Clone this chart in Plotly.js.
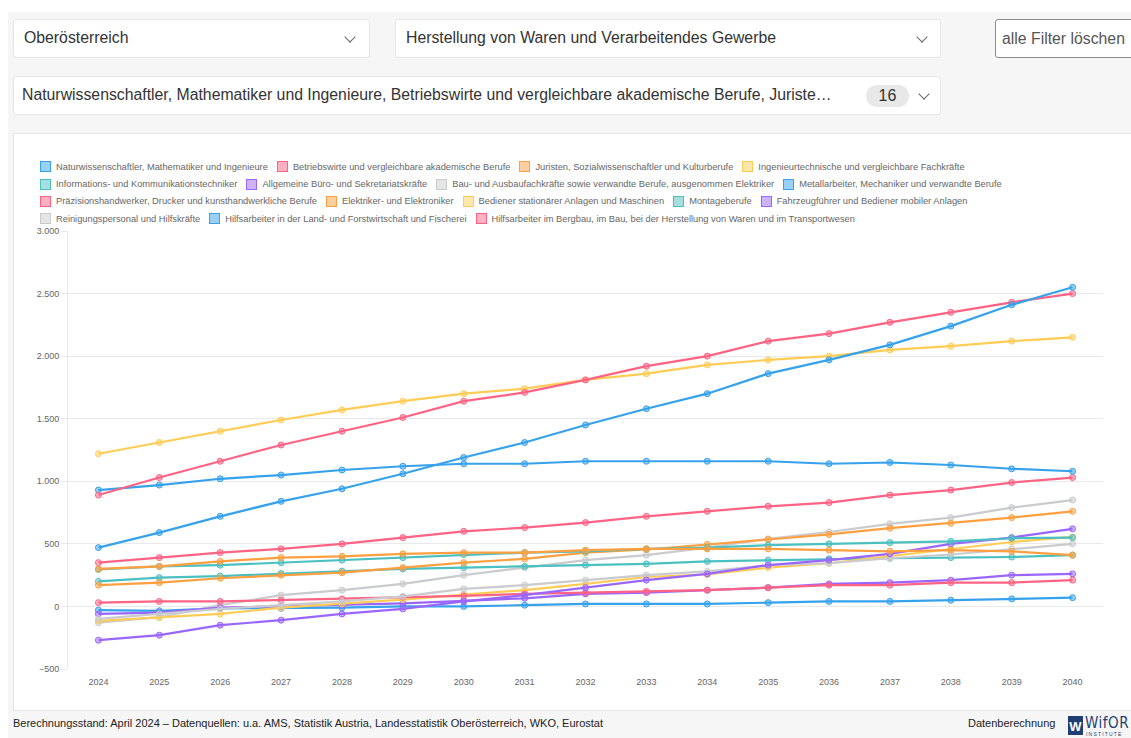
<!DOCTYPE html>
<html>
<head>
<meta charset="utf-8">
<script src="https://cdn.plot.ly/plotly-3.0.1.min.js"></script>
<style>
  html, body { margin:0; padding:0; width:1131px; height:738px; overflow:hidden; background:#fff;
    font-family:"Liberation Sans", Arial, Helvetica, sans-serif; }
  #bg { position:absolute; left:8px; top:12px; width:1123px; height:726px; background:#f6f6f6; }
  .box { position:absolute; background:#fff; border:1px solid #e6e6e6; border-radius:3px; box-sizing:border-box; }
  .box .txt { position:absolute; top:0; line-height:36px; font-size:15.8px; color:#333; white-space:nowrap; }
  .chev { position:absolute; top:13px; width:7px; height:7px; border-right:1.3px solid #666; border-bottom:1.3px solid #666; transform:rotate(45deg); }
  .badge { position:absolute; left:852px; top:8px; width:43px; height:22px; border-radius:11px; background:#e8e8e8;
    font-size:16px; color:#333; line-height:22px; text-align:center; }
  #btn { position:absolute; left:995px; top:19px; width:140px; height:39px; border:1px solid #8a8a8a; border-radius:3px;
    background:#fff; box-sizing:border-box; font-size:15.8px; color:#555; line-height:37px; padding-left:6px; white-space:nowrap; }
  #card { position:absolute; left:13px; top:133px; width:1125px; height:578px; background:#fff; border:1px solid #e4e4e4; box-sizing:border-box; }
  #legend { position:absolute; left:40px; top:158px; font-size:9.3px; color:#666; }
  .lrow { height:17.4px; white-space:nowrap; display:flex; align-items:center; }
  .li { display:inline-flex; align-items:center; margin-right:9px; }
  .sw { width:9px; height:9px; border:1px solid; margin-right:5px; }
  #plot { position:absolute; left:0; top:0; width:1131px; height:738px; }
  #foot { position:absolute; left:13px; top:717px; font-size:11px; color:#222; white-space:nowrap; }
  #dat { position:absolute; left:968px; top:717px; font-size:11px; color:#222; }
  #logo { position:absolute; left:1068px; top:714px; width:63px; height:24px; overflow:hidden; }
  #logo .w { position:absolute; left:0; top:2px; width:15px; height:19px; background:#1f3f73; color:#fff; font-size:13px; font-weight:bold; text-align:center; line-height:21px; }
  #logo .n { position:absolute; left:17px; top:0px; font-size:15px; color:#1f3f73; letter-spacing:0.5px; font-family:"Liberation Sans Narrow","DejaVu Sans Condensed",sans-serif; }
  #logo .i { position:absolute; left:18px; top:17px; font-size:5px; color:#1f3f73; letter-spacing:1.2px; }
</style>
</head>
<body>
<div id="bg"></div>
<div class="box" style="left:13px;top:19px;width:357px;height:39px;">
  <div class="txt" style="left:10px;">Oberösterreich</div><div class="chev" style="left:332px;"></div>
</div>
<div class="box" style="left:395px;top:19px;width:546px;height:39px;">
  <div class="txt" style="left:10px;">Herstellung von Waren und Verarbeitendes Gewerbe</div><div class="chev" style="left:522px;"></div>
</div>
<div id="btn">alle Filter löschen</div>
<div class="box" style="left:13px;top:76px;width:928px;height:39px;">
  <div class="txt" style="left:8px;">Naturwissenschaftler, Mathematiker und Ingenieure, Betriebswirte und vergleichbare akademische Berufe, Juriste…</div>
  <div class="badge">16</div><div class="chev" style="left:906px;"></div>
</div>
<div id="card"></div>
<div id="legend"></div>
<div id="plot"></div>
<div id="foot">Berechnungsstand: April 2024 – Datenquellen: u.a. AMS, Statistik Austria, Landesstatistik Oberösterreich, WKO, Eurostat</div>
<div id="dat">Datenberechnung</div>
<div id="logo"><div class="w">W</div><div class="n">WifOR</div><div class="i">INSTITUTE</div></div>
<script>
const years = ['2024','2025','2026','2027','2028','2029','2030','2031','2032','2033','2034','2035','2036','2037','2038','2039','2040'];

const naturwiss      = [470,590,720,840,940,1060,1190,1310,1450,1580,1700,1860,1970,2090,2240,2410,2550];
const betriebswirte  = [890,1030,1160,1290,1400,1510,1640,1710,1810,1920,2000,2120,2180,2270,2350,2430,2500];
const juristen       = [300,320,360,390,400,420,430,430,450,460,460,460,450,440,450,440,410];
const ingenieurtech  = [1220,1310,1400,1490,1570,1640,1700,1740,1810,1860,1930,1970,2000,2050,2080,2120,2150];
const ikt            = [295,320,330,350,370,390,415,430,440,460,470,490,500,510,520,545,550];
const buero          = [-270,-230,-150,-110,-60,-20,40,90,150,210,260,330,370,420,500,550,620];
const bau            = [-100,-60,-20,10,40,80,140,170,210,250,280,330,345,385,415,460,500];
const metall         = [930,970,1020,1050,1090,1120,1140,1140,1160,1160,1160,1160,1140,1150,1130,1100,1080];
const praezision     = [30,40,40,50,60,75,85,100,110,120,130,150,170,170,190,190,210];
const elektriker     = [170,190,225,250,270,310,350,380,430,455,495,535,575,625,665,710,760];
const bediener       = [-115,-90,-60,-10,20,55,95,130,180,235,255,310,345,400,455,515,555];
const montage        = [200,230,242,263,282,300,310,320,330,340,360,370,380,385,390,395,410];
const fahrzeug       = [-60,-50,-10,0,10,25,45,65,100,110,130,150,180,190,210,250,260];
const reinigung      = [-130,-85,10,90,130,180,250,310,370,410,470,540,595,660,710,790,850];
const hilfsLand      = [-30,-35,-15,-15,-10,0,0,10,20,20,20,30,40,40,50,60,70];
const hilfsBergbau   = [350,390,430,460,500,550,600,630,670,720,760,800,830,890,930,990,1030];

const names = [
  'Naturwissenschaftler, Mathematiker und Ingenieure',
  'Betriebswirte und vergleichbare akademische Berufe',
  'Juristen, Sozialwissenschaftler und Kulturberufe',
  'Ingenieurtechnische und vergleichbare Fachkräfte',
  'Informations- und Kommunikationstechniker',
  'Allgemeine Büro- und Sekretariatskräfte',
  'Bau- und Ausbaufachkräfte sowie verwandte Berufe, ausgenommen Elektriker',
  'Metallarbeiter, Mechaniker und verwandte Berufe',
  'Präzisionshandwerker, Drucker und kunsthandwerkliche Berufe',
  'Elektriker- und Elektroniker',
  'Bediener stationärer Anlagen und Maschinen',
  'Montageberufe',
  'Fahrzeugführer und Bediener mobiler Anlagen',
  'Reinigungspersonal und Hilfskräfte',
  'Hilfsarbeiter in der Land- und Forstwirtschaft und Fischerei',
  'Hilfsarbeiter im Bergbau, im Bau, bei der Herstellung von Waren und im Transportwesen'
];
const values = [naturwiss, betriebswirte, juristen, ingenieurtech, ikt, buero, bau, metall,
  praezision, elektriker, bediener, montage, fahrzeug, reinigung, hilfsLand, hilfsBergbau];

const palette = [[54,162,235],[255,99,132],[255,159,64],[255,205,86],[75,192,192],[153,102,255],[201,203,207]];
const rgb = (c,a) => a===undefined ? `rgb(${c[0]},${c[1]},${c[2]})` : `rgba(${c[0]},${c[1]},${c[2]},${a})`;

// legend (HTML, Chart.js-like boxes), rows as in the reference
const rows = [[0,1,2,3],[4,5,6,7],[8,9,10,11,12],[13,14,15]];
const leg = document.getElementById('legend');
rows.forEach(r => {
  const row = document.createElement('div'); row.className = 'lrow';
  r.forEach(i => {
    const c = palette[i % 7];
    const it = document.createElement('span'); it.className = 'li';
    const sw = document.createElement('span'); sw.className = 'sw';
    sw.style.background = rgb(c,0.5); sw.style.borderColor = rgb(c);
    const t = document.createElement('span'); t.textContent = names[i];
    it.appendChild(sw); it.appendChild(t); row.appendChild(it);
  });
  leg.appendChild(row);
});

const traces = [];
for (let i = values.length - 1; i >= 0; i--) {
  const c = palette[i % 7];
  traces.push({
    type:'scatter', mode:'lines+markers', x: years, y: values[i], name: names[i],
    line:{color: rgb(c), width:2.2},
    marker:{size:6, color: rgb(c,0.5), line:{color: rgb(c), width:1}},
    hoverinfo:'skip', showlegend:false
  });
}

const layout = {
  width:1131, height:738,
  margin:{l:68, r:28, t:231, b:69, pad:0},
  paper_bgcolor:'rgba(0,0,0,0)', plot_bgcolor:'rgba(0,0,0,0)',
  separators:',.',
  font:{family:'"Liberation Sans", Arial, sans-serif', size:9, color:'#666'},
  showlegend:false,
  xaxis:{type:'category', range:[-0.5,16.5], showgrid:false, zeroline:false, showline:false,
    ticks:'outside', ticklen:4, tickcolor:'rgba(0,0,0,0)', tickfont:{size:9, color:'#666'}, fixedrange:true},
  yaxis:{range:[-500,3000], dtick:500, tick0:0, separatethousands:true, tickformat:',d',
    showgrid:true, gridcolor:'#e9e9e9', gridwidth:1, zeroline:false,
    showline:true, linecolor:'#e9e9e9', ticks:'outside', ticklen:6, tickcolor:'#e9e9e9',
    tickfont:{size:9, color:'#666'}, fixedrange:true}
};
Plotly.newPlot('plot', traces, layout, {displayModeBar:false, staticPlot:true});
</script>
</body>
</html>
